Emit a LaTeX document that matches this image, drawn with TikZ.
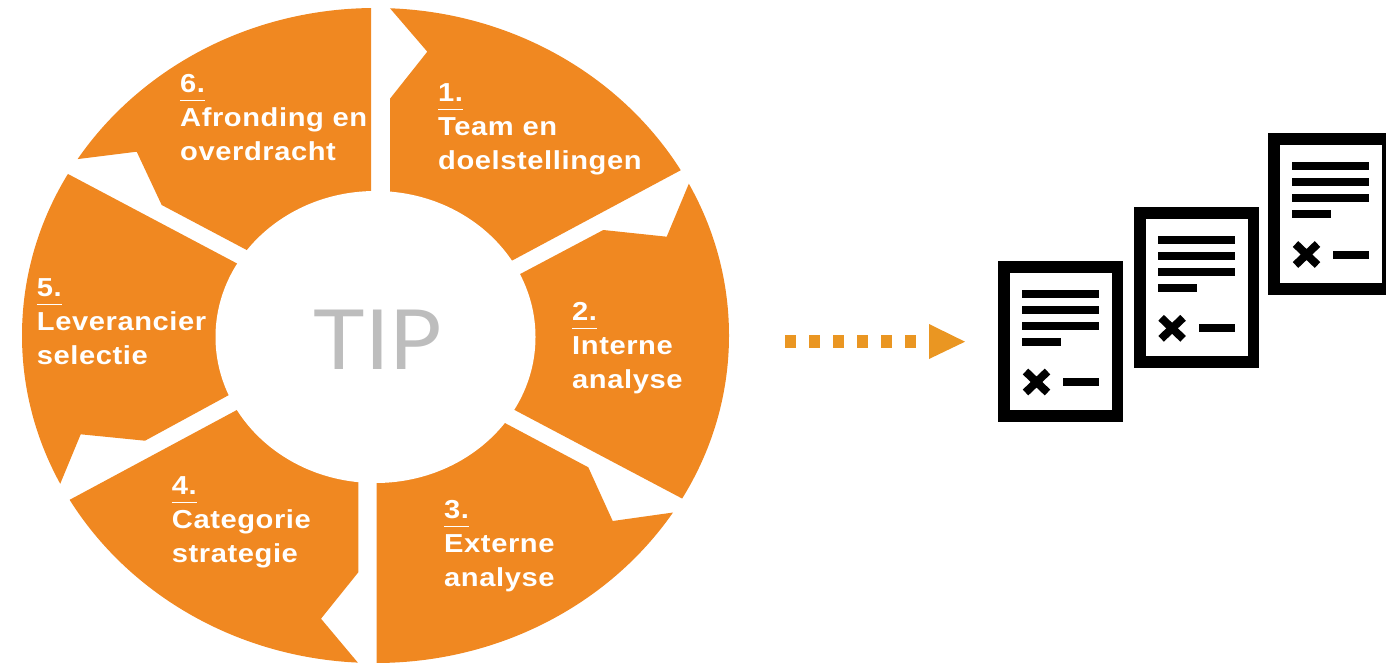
\documentclass[tikz,border=0pt]{standalone}
\usepackage{fontspec}
\setmainfont{Liberation Sans}
\newfontfamily\segfont[LetterSpace=2]{Liberation Sans Bold}
\newfontfamily\tipfont{Lato}
\definecolor{segorange}{HTML}{F08821}
\definecolor{arroworange}{HTML}{EA9622}
\definecolor{tipgray}{HTML}{BDBDBD}
\tikzset{
  seg/.style={fill=segorange,draw=none},
  segtext/.style={text=white,anchor=base west,inner sep=0pt,xscale=1.12,font=\fontsize{26}{26}\segfont},
  segrule/.style={draw=white,line width=1pt},
  blk/.style={fill=black,draw=none},
  wht/.style={fill=white,draw=none},
  dotsq/.style={fill=arroworange,draw=none}
}
% name, x, y(number baseline), number, line1, line2
\newcommand{\seglabel}[6]{%
  \node[segtext] (#1n) at (#2,#3) {#4};
  \coordinate (#1a) at (#2,#3+8);
  \coordinate (#1b) at (#2+25,#3+8);
  \draw[segrule] (#1a) -- (#1b);
  \node[segtext] (#1l) at (#2,#3+34) {#5};
  \node[segtext] (#1m) at (#2,#3+68) {#6};
}
% offset x, offset y
\newcommand{\docicon}[2]{%
  \begin{scope}[shift={(#1,#2)}]
    \fill[blk] (998,261) rectangle (1123,422);
    \fill[wht] (1010,273) rectangle (1112,410);
    \fill[blk] (1022,289.5) rectangle (1099,297.5);
    \fill[blk] (1022,305.5) rectangle (1099,313.5);
    \fill[blk] (1022,321.5) rectangle (1099,329.5);
    \fill[blk] (1022,337.5) rectangle (1061,345.5);
    \fill[blk] (1063,378) rectangle (1099,386);
    \draw[black,line width=8pt] (1025.5,371.5) -- (1047.5,392.5);
    \draw[black,line width=8pt] (1025.5,392.5) -- (1047.5,371.5);
  \end{scope}
}
\begin{document}
\begin{tikzpicture}[x=1pt,y=-1pt]
\useasboundingbox (0,0) rectangle (1386,663);
\clip (0,0) rectangle (1386,663);
\begin{scope}
  \clip (375.5,335.5) ellipse [x radius=353.5, y radius=327.5];
  % 1
  \fill[seg] (370,-15) -- (427.3,51.7) -- (390,98.7) -- (390,300) -- (510,261.7) -- (679.3,171) -- (760,128) -- (760,-40) -- (370,-40) -- cycle;
  % 2
  \fill[seg] (518.3,275) -- (603.3,230) -- (666.7,236.7) -- (688.3,185) -- (730,85) -- (790,85) -- (790,560) -- (681.7,498.3) -- (513.3,409.3) -- (400,350) -- cycle;
  % 3
  \fill[seg] (504.3,422.7) -- (588.3,467.3) -- (612.7,521) -- (671.7,512.7) -- (760,500) -- (760,700) -- (376.7,700) -- (376.7,400) -- cycle;
  % 4
  \fill[seg] (358.3,400) -- (358.3,572.3) -- (321,618.7) -- (385,695) -- (0,695) -- (0,535) -- (69.3,500) -- (235,411) -- (350,350) -- cycle;
  % 5
  \fill[seg] (227.7,395.7) -- (145,440.7) -- (80.7,434.3) -- (59.3,486) -- (30,556) -- (-20,556) -- (-20,130) -- (66.7,173.3) -- (236.7,263.3) -- (350,323) -- cycle;
  % 6
  \fill[seg] (350,300) -- (246.7,250) -- (161.7,205) -- (136.7,151.7) -- (78.3,159) -- (-10,170) -- (-10,-30) -- (371,-30) -- (371,300) -- cycle;
\end{scope}
\fill[wht] (375.5,337) ellipse [x radius=160, y radius=146];
\node[text=tipgray,inner sep=0pt,anchor=base west,xscale=1.05,font=\fontsize{83}{83}\tipfont] (tip) at (313.5,369) {TIP};
\seglabel{a}{438}{101.7}{1.}{Team en}{doelstellingen}
\seglabel{b}{572}{320}{2.}{Interne}{analyse}
\seglabel{c}{444}{518}{3.}{Externe}{analyse}
\seglabel{d}{171.7}{494.3}{4.}{Categorie}{strategie}
\seglabel{e}{36.7}{296.7}{5.}{Leverancier}{selectie}
\seglabel{f}{180}{92.3}{6.}{Afronding en}{overdracht}
\foreach \i in {0,...,6} {\fill[dotsq] (784.5+24*\i,335) rectangle (796.3+24*\i,348);}
\fill[dotsq] (929,324) -- (965,341.7) -- (929,359) -- cycle;
\docicon{0}{0}
\docicon{135.6}{-53.7}
\docicon{270}{-127.5}
\end{tikzpicture}
\end{document}
